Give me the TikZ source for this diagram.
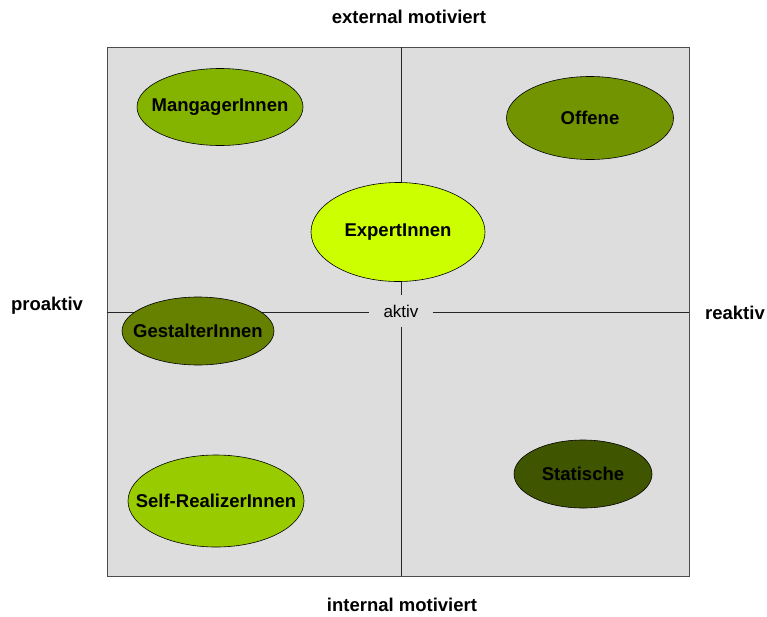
\documentclass[tikz,border=0pt]{standalone}
\usepackage{fontspec}
\setmainfont{Liberation Sans}
\usetikzlibrary{shapes.geometric}
\definecolor{feld}{RGB}{221,221,221}
\definecolor{gruenA}{RGB}{132,180,0}
\definecolor{gruenB}{RGB}{114,148,0}
\definecolor{gruenC}{RGB}{204,255,0}
\definecolor{gruenD}{RGB}{102,128,0}
\definecolor{gruenE}{RGB}{153,204,0}
\definecolor{gruenF}{RGB}{64,85,0}
\newcommand{\typtext}[1]{\makebox[0pt]{#1}}
\tikzset{
  typ/.style={ellipse,draw=black,line width=0.6pt,inner sep=0pt,
    font=\fontsize{18.5}{20}\selectfont\bfseries},
  achse/.style={font=\fontsize{18.5}{20}\selectfont\bfseries},
  linie/.style={line width=0.9pt,draw=black!85}
}
\begin{document}
\begin{tikzpicture}[x=1pt,y=-1pt]
\useasboundingbox (0,0) rectangle (767,616);
\fill[color=feld] (107,47) rectangle (689,576);
\draw[linie,draw=black!70] (107,47) rectangle (689,576);

\node[fill=feld,inner sep=0pt,minimum width=63,minimum height=31,
  font=\fontsize{17}{18}\selectfont] (aktiv) at (401,311) {aktiv};
\coordinate (oben) at (401,47);
\coordinate (unten) at (401,576);
\coordinate (links) at (107,312);
\coordinate (rechts) at (689,312);

\draw[linie] (oben) -- (aktiv.north);
\draw[linie] (aktiv.south) -- (unten);
\draw[linie] (links) -- (aktiv.west |- links);
\draw[linie] (aktiv.east |- rechts) -- (rechts);

\node[typ,fill=gruenA,minimum width=166,minimum height=77] (manager) at (220,107) {\typtext{MangagerInnen}};
\node[typ,fill=gruenB,minimum width=167,minimum height=83] (offene) at (590,118) {\typtext{Offene}};
\node[typ,fill=gruenC,minimum width=174,minimum height=99] (experten) at (398,232) {\typtext{ExpertInnen}};
\node[typ,fill=gruenD,minimum width=152,minimum height=68] (gestalter) at (198,331) {\typtext{GestalterInnen}};
\node[typ,fill=gruenE,minimum width=176,minimum height=92] (realizer) at (216,501) {\typtext{Self-RealizerInnen}};
\node[typ,fill=gruenF,minimum width=138,minimum height=68] (statische) at (583,474) {\typtext{Statische}};

\node[achse] (extern) at (409,17) {external motiviert};
\node[achse] (intern) at (402,605) {internal motiviert};
\node[achse] (proaktiv) at (47,306) {proaktiv};
\node[achse] (reaktiv) at (735,313) {reaktiv};
\end{tikzpicture}
\end{document}
